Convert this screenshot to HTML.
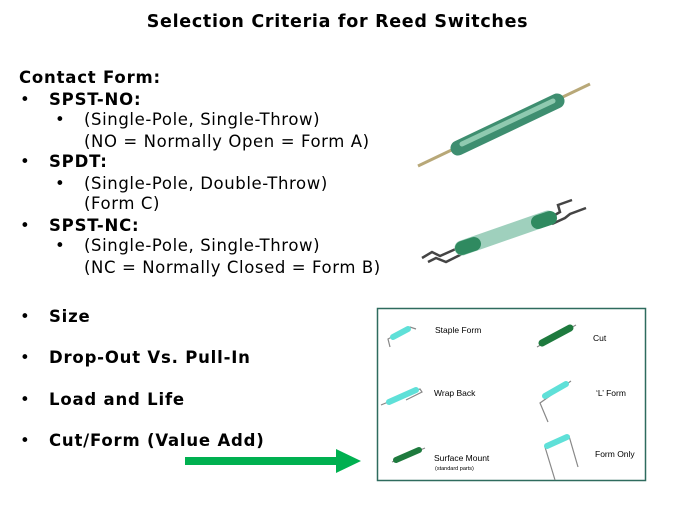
<!DOCTYPE html>
<html><head><style>
body{margin:0;width:675px;height:506px;background:#fff;position:relative;overflow:hidden;font-family:"DejaVu Sans","Liberation Sans",sans-serif;color:#000}
.t{position:absolute;white-space:nowrap;font-size:16.5px;line-height:20px;letter-spacing:0.6px}
.b{font-weight:bold;letter-spacing:0.8px}
.s{position:absolute;white-space:nowrap;font-size:8.5px;line-height:10px;font-family:"Liberation Sans",sans-serif}
</style></head><body>
<div class="t b" style="left:0;width:675px;text-align:center;top:12px;font-size:17.5px;letter-spacing:0.7px">Selection Criteria for Reed Switches</div>
<div class="t b" style="left:19px;top:68px">Contact Form:</div>
<div class="t" style="left:20px;top:90px">•</div><div class="t b" style="left:49px;top:90px">SPST-NO:</div>
<div class="t" style="left:55px;top:110px">•</div><div class="t" style="left:84px;top:110px">(Single-Pole, Single-Throw)</div>
<div class="t" style="left:84px;top:132px">(NO = Normally Open = Form A)</div>
<div class="t" style="left:20px;top:152px">•</div><div class="t b" style="left:49px;top:152px">SPDT:</div>
<div class="t" style="left:55px;top:174px">•</div><div class="t" style="left:84px;top:174px">(Single-Pole, Double-Throw)</div>
<div class="t" style="left:84px;top:194px">(Form C)</div>
<div class="t" style="left:20px;top:216px">•</div><div class="t b" style="left:49px;top:216px">SPST-NC:</div>
<div class="t" style="left:55px;top:236px">•</div><div class="t" style="left:84px;top:236px">(Single-Pole, Single-Throw)</div>
<div class="t" style="left:84px;top:258px">(NC = Normally Closed = Form B)</div>
<div class="t" style="left:20px;top:307px">•</div><div class="t b" style="left:49px;top:307px">Size</div>
<div class="t" style="left:20px;top:348px">•</div><div class="t b" style="left:49px;top:348px">Drop-Out Vs. Pull-In</div>
<div class="t" style="left:20px;top:390px">•</div><div class="t b" style="left:49px;top:390px">Load and Life</div>
<div class="t" style="left:20px;top:431px">•</div><div class="t b" style="left:49px;top:431px">Cut/Form (Value Add)</div>

<svg style="position:absolute;left:0;top:0" width="675" height="506">
<line x1="418" y1="166" x2="590" y2="84" stroke="#b8a878" stroke-width="3"/>
<line x1="458" y1="148" x2="557" y2="101" stroke="#3e8e70" stroke-width="15" stroke-linecap="round"/>
<line x1="462" y1="144" x2="553" y2="101" stroke="#8fcab0" stroke-width="5" stroke-linecap="round"/>
<polyline points="422,258 432,252 440,256 458,248" fill="none" stroke="#444" stroke-width="2.5"/>
<polyline points="428,262 436,258 446,262 462,254" fill="none" stroke="#444" stroke-width="2.5"/>
<polyline points="548,219 560,212 558,205 572,200" fill="none" stroke="#444" stroke-width="2.5"/>
<polyline points="552,224 565,218 570,214 586,208" fill="none" stroke="#444" stroke-width="2.5"/>
<line x1="462" y1="248" x2="548" y2="218" stroke="#9fd0bd" stroke-width="15" stroke-linecap="round"/>
<line x1="462" y1="248" x2="474" y2="244" stroke="#2f8a60" stroke-width="14" stroke-linecap="round"/>
<line x1="538" y1="222" x2="550" y2="218" stroke="#2f8a60" stroke-width="14" stroke-linecap="round"/>
<rect x="377.5" y="308.5" width="268" height="172" fill="none" stroke="#2e6b5e" stroke-width="1.5"/>
<polyline points="390,347 388,339 410,327 416,329" fill="none" stroke="#888" stroke-width="1.2"/>
<line x1="393" y1="337" x2="408" y2="329" stroke="#5fe0d8" stroke-width="6" stroke-linecap="round"/>
<line x1="537" y1="347" x2="576" y2="325" stroke="#888" stroke-width="1.2"/>
<line x1="542" y1="343" x2="570" y2="328" stroke="#1e7a3e" stroke-width="7" stroke-linecap="round"/>
<polyline points="381,405 420,389 422,392 406,400" fill="none" stroke="#888" stroke-width="1.2"/>
<line x1="389" y1="402" x2="416" y2="390" stroke="#5fe0d8" stroke-width="6" stroke-linecap="round"/>
<polyline points="548,422 540,403 571,381" fill="none" stroke="#888" stroke-width="1.2"/>
<line x1="545" y1="396" x2="566" y2="384" stroke="#5fe0d8" stroke-width="6" stroke-linecap="round"/>
<line x1="392" y1="462" x2="425" y2="448" stroke="#888" stroke-width="1.2"/>
<line x1="396" y1="460" x2="419" y2="450" stroke="#1e7a3e" stroke-width="6" stroke-linecap="round"/>
<polyline points="555,480 545,447 569,436 578,467" fill="none" stroke="#888" stroke-width="1.2"/>
<line x1="547" y1="446" x2="567" y2="437" stroke="#5fe0d8" stroke-width="6" stroke-linecap="round"/>
<rect x="185" y="457" width="152" height="8" fill="#00b050"/>
<polygon points="336,449 361,461 336,473" fill="#00b050"/>
</svg>
<div class="s" style="left:435px;top:325px">Staple Form</div>
<div class="s" style="left:593px;top:333px">Cut</div>
<div class="s" style="left:434px;top:388px">Wrap Back</div>
<div class="s" style="left:596px;top:388px">‘L’ Form</div>
<div class="s" style="left:434px;top:453px">Surface Mount</div>
<div class="s" style="left:435px;top:464px;font-size:5.5px">(standard parts)</div>
<div class="s" style="left:595px;top:449px">Form Only</div>
</body></html>
